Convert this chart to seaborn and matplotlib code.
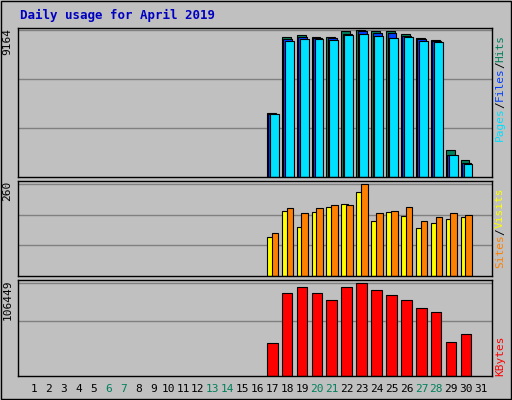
import numpy as np
import matplotlib
matplotlib.use("Agg")
import matplotlib.pyplot as plt
import seaborn as sns

# Data (days 1..31, zero where no traffic)
days = list(range(1, 32))
active_days = list(range(17, 31))
hits = [3990, 8728, 8852, 8728, 8728, 9102, 9164, 9102, 9102, 8915, 8665, 8541, 1683, 1060]
files = [3960, 8600, 8730, 8660, 8660, 8915, 9100, 8960, 8960, 8790, 8600, 8480, 1380, 870]
pages = [3927, 8478, 8603, 8603, 8541, 8852, 8915, 8790, 8665, 8728, 8478, 8416, 1371, 810]
sites = [110, 184, 138, 181, 195, 203, 237, 155, 181, 169, 136, 150, 161, 167]
visits = [122, 192, 178, 192, 201, 201, 260, 178, 184, 195, 155, 167, 178, 172]
kbytes = [37849, 94621, 101717, 94621, 86342, 101717, 106449, 98169, 92255, 86342, 78062, 73331, 39031, 48493]
weekend_days = [6, 7, 13, 14, 20, 21, 27, 28]

sns.set_style("white")
plt.rcParams['font.family'] = ['DejaVu Sans Mono']

BG = '#c0c0c0'
fig = plt.figure(figsize=(5.12, 4.0), dpi=100, facecolor=BG)
W, H = 512, 400

def panel(top, bottom):
    ax = fig.add_axes([18 / W, 1 - bottom / H, (492 - 18) / W, (bottom - top) / H])
    ax.set_facecolor(BG)
    ax.set_xlim(-0.07, 31.74)
    ax.set_xticks([])
    ax.set_yticks([])
    for s in ax.spines.values():
        s.set_color('black')
        s.set_linewidth(1)
    return ax

x = np.array(active_days, dtype=float)
kw = dict(edgecolor='black', linewidth=0.8, align='edge')

# Panel 1: hits / files / pages
ax1 = panel(28, 177)
top1 = max(hits)
ax1.set_ylim(0, top1 * 1.015)
for g in [top1 / 3, 2 * top1 / 3, top1]:
    ax1.axhline(g, color='#808080', lw=1, zorder=0)
ax1.bar(x - 0.37, hits, width=0.6, color='#00805c', **kw)
ax1.bar(x - 0.27, files, width=0.6, color='#0040ff', **kw)
ax1.bar(x - 0.17, pages, width=0.6, color='#00e0ff', **kw)

# Panel 2: sites / visits
ax2 = panel(181, 276)
top2 = max(visits)
ax2.set_ylim(0, top2 * 1.03)
for g in [top2 / 3, 2 * top2 / 3, top2]:
    ax2.axhline(g, color='#808080', lw=1, zorder=0)
ax2.bar(x - 0.37, sites, width=0.45, color='#ffff00', **kw)
ax2.bar(x - 0.05, visits, width=0.45, color='#ff8000', **kw)

# Panel 3: kbytes
ax3 = panel(280, 376)
top3 = max(kbytes)
ax3.set_ylim(0, top3 * 1.03)
for g in [top3 / 1.7, top3]:
    ax3.axhline(g, color='#808080', lw=1, zorder=0)
ax3.bar(x - 0.37, kbytes, width=0.72, color='#ff0000', **kw)

# Y max labels
for ax, lab in [(ax1, str(top1)), (ax2, str(top2)), (ax3, str(top3))]:
    ax.text(-0.012, 1.0, lab, transform=ax.transAxes, rotation=90, ha='right', va='top',
            fontsize=8, color='black')

# Right side legends
def side(ax, parts, y0):
    t = fig.transFigure
    yy = y0
    for txt, col in parts:
        tt = fig.text(500 / W, yy, txt, rotation=90, ha='center', va='bottom', fontsize=8, color=col)
        yy += (len(txt) * 6.6) / H

side(ax1, [('Pages', '#00e0ff'), ('/', 'black'), ('Files', '#0040ff'), ('/', 'black'), ('Hits', '#00805c')], 1 - 177 / H + 0.09)
side(ax2, [('Sites', '#ff8000'), ('/', 'black'), ('Visits', '#ffff00')], 1 - 276 / H + 0.02)
side(ax3, [('KBytes', '#ff0000')], 1 - 376 / H + 0.0)

# Day labels
for d in days:
    xp = (34 + (d - 1) * 14.9) / W
    fig.text(xp, 1 - 389 / H, str(d), ha='center', va='center', fontsize=8,
             color='#00805c' if d in weekend_days else 'black')

fig.text(20 / W, 1 - 15 / H, 'Daily usage for April 2019', ha='left', va='center',
         fontsize=9, fontweight='bold', color='#0000c0')

fig.patches.append(plt.Rectangle((1 / W, 1 / H), 1 - 2 / W, 1 - 2 / H, transform=fig.transFigure,
                                 fill=False, edgecolor='black', lw=1))

fig.savefig('out.png', dpi=100, facecolor=BG)
